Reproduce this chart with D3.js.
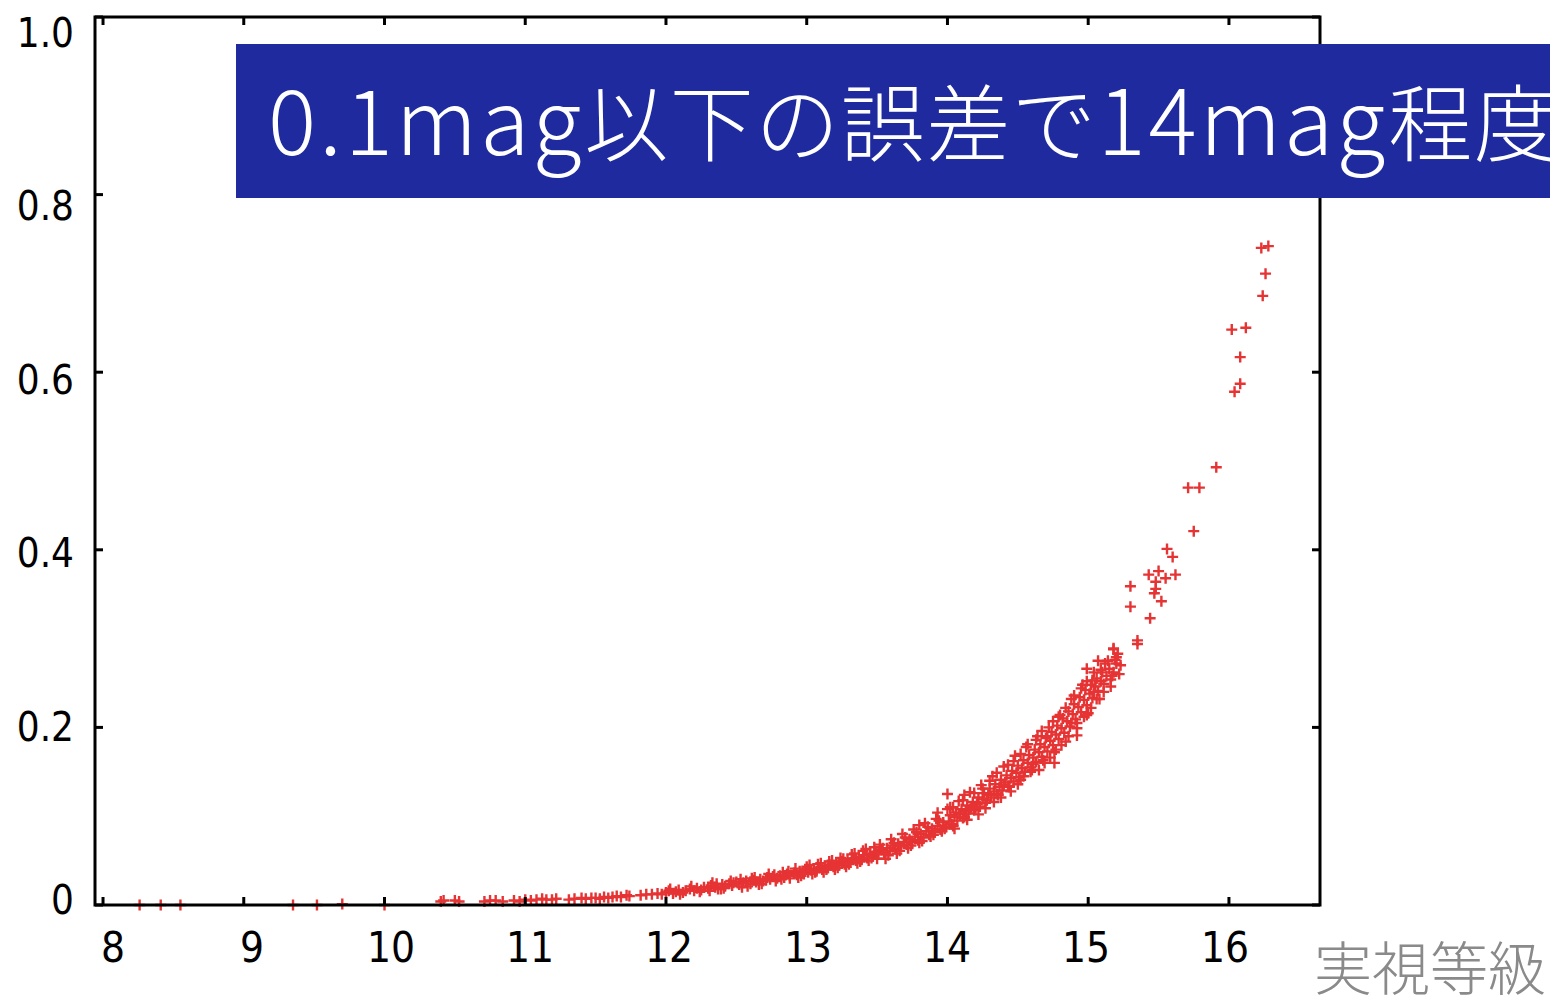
<!DOCTYPE html>
<html>
<head>
<meta charset="utf-8">
<script src="https://cdn.jsdelivr.net/npm/d3@7"></script>
<style>
html,body{margin:0;padding:0;background:#fff;}
svg{display:block;}
</style>
</head>
<body>
<svg id="chart" width="1550" height="1000"></svg>
<script>
// ---- data (magnitude, photometric error) ----
const xTicks = [8, 9, 10, 11, 12, 13, 14, 15, 16];
const yTicks = [0, 0.2, 0.4, 0.6, 0.8, 1.0];
const yTickLabels = ["0", "0.2", "0.4", "0.6", "0.8", "1.0"];
const titleParts = [
  {t: "0.1mag", latin: true},
  {t: "以下の誤差で", latin: false},
  {t: "14mag", latin: true},
  {t: "程度", latin: false}
];
const xAxisTitle = "実視等級";

const brightStars = [
  [8.26,0],[8.41,0],[8.55,0],[9.35,0],[9.52,0],[9.70,0.001],[10.00,0],
  [10.40,0.004],[10.42,0.005],[10.50,0.005],[10.53,0.004],[10.71,0.004],[10.75,0.005],
  [10.79,0.005],[10.84,0.004],[10.92,0.005],[10.96,0.004],
  [11.00,0.006],[11.04,0.005],[11.08,0.006],[11.12,0.007],[11.15,0.006],[11.19,0.006],
  [11.22,0.007],[11.31,0.006],[11.35,0.007],[11.40,0.008],[11.43,0.007],[11.47,0.008],
  [11.50,0.008],[11.53,0.007],[11.56,0.009],[11.59,0.008],[11.62,0.009],[11.65,0.010],
  [11.68,0.009],[11.72,0.011],[11.74,0.010],[11.82,0.011],[11.86,0.012],[11.90,0.012],
  [11.94,0.013],[11.97,0.012]
];

const midStars = [
  [12.00,0.014],[12.02,0.016],[12.05,0.013],[12.07,0.015],[12.09,0.017],[12.12,0.014],
  [12.14,0.016],[12.17,0.018],[12.20,0.016],[12.22,0.019],[12.25,0.017],[12.27,0.020],
  [12.30,0.019],[12.32,0.022],[12.35,0.020],[12.37,0.018],[12.40,0.023],[12.42,0.021],
  [12.45,0.024],[12.47,0.022],[12.50,0.026],[12.52,0.023],[12.55,0.025],[12.57,0.027],
  [12.60,0.024],[12.62,0.028],[12.64,0.026],[12.67,0.029],[12.69,0.027],[12.72,0.031],
  [12.74,0.029],[12.76,0.032],[12.79,0.030],[12.81,0.033],[12.84,0.031],[12.86,0.035],
  [12.88,0.033],[12.91,0.036],[12.93,0.034],[12.95,0.038],[12.97,0.036],[12.99,0.040],
  [13.01,0.037],[13.03,0.039],[13.05,0.041],[13.07,0.038],[13.09,0.042],[13.11,0.040],
  [13.13,0.044],[13.15,0.042],[13.17,0.045],[13.19,0.043],[13.21,0.047],[13.23,0.045],
  [13.25,0.049],[13.27,0.046],[13.29,0.050],[13.31,0.048],[13.33,0.052],[13.35,0.050],
  [13.37,0.054],[13.39,0.051],[13.41,0.056],[13.43,0.053],[13.45,0.058],[13.47,0.055],
  [13.49,0.060],[13.51,0.057],[13.53,0.062],[13.55,0.059],[13.57,0.064],[13.59,0.061],
  [13.61,0.067],[13.63,0.063],[13.65,0.069],[13.67,0.066],[13.69,0.071],[13.71,0.068],
  [13.73,0.074],[13.75,0.071],[13.77,0.077],[13.79,0.073],[13.81,0.080],[13.83,0.076],
  [13.85,0.083],[13.87,0.079],[13.89,0.086],[13.91,0.082],[13.93,0.089],[13.95,0.085],
  [13.97,0.093],[13.99,0.088]
];

const midScatter = [
  [12.03,0.018],[12.10,0.012],[12.18,0.021],[12.24,0.015],[12.33,0.025],[12.39,0.018],
  [12.46,0.027],[12.53,0.029],[12.58,0.021],[12.63,0.031],[12.68,0.024],[12.73,0.035],
  [12.78,0.027],[12.83,0.037],[12.88,0.030],[12.92,0.041],[12.96,0.033],[13.00,0.043],
  [13.04,0.035],[13.08,0.046],[13.12,0.037],[13.16,0.049],[13.20,0.040],[13.24,0.053],
  [13.28,0.043],[13.32,0.057],[13.36,0.047],[13.40,0.061],[13.44,0.050],[13.48,0.065],
  [12.31,0.016],[12.36,0.024],[12.41,0.019],[12.48,0.025],[12.54,0.020],[12.61,0.030],
  [12.66,0.023],[12.71,0.028],[12.77,0.034],[12.82,0.029],[12.87,0.038],[12.94,0.031],
  [12.98,0.035],[13.02,0.045],[13.06,0.037],[13.10,0.047],[13.14,0.040],[13.18,0.050],
  [13.22,0.042],[13.26,0.052],[13.30,0.046],[13.34,0.058],[13.38,0.049],[13.42,0.063],
  [13.46,0.053]
];

const faintStars = [
  [14.01,0.094],[14.02,0.101],[14.03,0.091],[14.05,0.099],[14.06,0.104],[14.07,0.095],
  [14.09,0.102],[14.10,0.108],[14.11,0.098],[14.13,0.106],[14.14,0.112],[14.15,0.103],
  [14.17,0.110],[14.18,0.116],[14.19,0.107],[14.21,0.114],[14.22,0.121],[14.23,0.111],
  [14.25,0.119],[14.26,0.126],[14.27,0.115],[14.29,0.124],[14.30,0.131],[14.31,0.121],
  [14.33,0.128],[14.34,0.136],[14.35,0.125],[14.37,0.133],[14.38,0.141],[14.39,0.129],
  [14.41,0.138],[14.42,0.146],[14.43,0.134],[14.45,0.143],[14.46,0.151],[14.47,0.139],
  [14.49,0.149],[14.50,0.157],[14.51,0.144],[14.53,0.154],[14.54,0.163],[14.55,0.150],
  [14.57,0.160],[14.58,0.169],[14.59,0.155],[14.61,0.166],[14.62,0.175],[14.63,0.161],
  [14.65,0.172],[14.66,0.181],[14.67,0.167],[14.69,0.178],[14.70,0.188],[14.71,0.173],
  [14.73,0.185],[14.74,0.195],[14.75,0.180],[14.77,0.192],[14.78,0.202],[14.79,0.187],
  [14.81,0.199],[14.82,0.210],[14.83,0.194],[14.85,0.207],[14.86,0.218],[14.87,0.201],
  [14.89,0.215],[14.90,0.226],[14.91,0.209],[14.93,0.223],[14.94,0.234],[14.95,0.217],
  [14.97,0.231],[14.98,0.242],[14.99,0.225],[15.01,0.238],[15.02,0.248],[15.03,0.233],
  [15.05,0.246],[15.06,0.255],[15.07,0.241],[15.09,0.252],[15.10,0.262],[15.11,0.249],
  [15.13,0.258],[15.15,0.266],[15.16,0.254],[15.18,0.262],[15.20,0.272],[15.22,0.260]
];

const faintScatter = [
  [13.52,0.068],[13.56,0.052],[13.60,0.074],[13.64,0.058],[13.68,0.080],[13.72,0.064],
  [13.76,0.085],[13.80,0.070],[13.84,0.092],[13.88,0.077],[13.92,0.097],[13.96,0.083],
  [14.00,0.108],[14.04,0.089],[14.08,0.117],[14.12,0.099],[14.16,0.127],[14.20,0.109],
  [14.24,0.135],[14.28,0.118],[14.32,0.145],[14.36,0.124],[14.40,0.156],[14.44,0.133],
  [14.48,0.168],[14.52,0.141],[14.56,0.178],[14.60,0.152],[14.64,0.190],[14.68,0.163],
  [14.72,0.200],[14.76,0.172],[14.80,0.214],[14.84,0.184],[14.88,0.232],[14.92,0.199],
  [14.96,0.248],[15.00,0.216],[15.04,0.262],[15.08,0.232],[15.12,0.272],[15.16,0.246],
  [15.19,0.276],
  [13.50,0.052],[13.54,0.064],[13.58,0.056],[13.62,0.070],[13.66,0.061],[13.70,0.076],
  [13.74,0.067],[13.78,0.082],[13.82,0.072],[13.86,0.088],[13.90,0.079],[13.94,0.095],
  [13.98,0.086],[14.02,0.110],[14.05,0.086],[14.08,0.103],[14.11,0.118],[14.14,0.096],
  [14.16,0.108],[14.19,0.126],[14.22,0.102],[14.25,0.131],[14.27,0.109],[14.30,0.140],
  [14.33,0.116],[14.35,0.149],[14.38,0.121],[14.40,0.135],[14.43,0.158],[14.45,0.128],
  [14.47,0.162],[14.50,0.136],[14.52,0.170],[14.54,0.145],[14.57,0.181],[14.59,0.150],
  [14.61,0.159],[14.63,0.186],[14.65,0.152],[14.67,0.196],[14.69,0.160],[14.71,0.190],
  [14.73,0.166],[14.75,0.207],[14.77,0.175],[14.79,0.212],[14.81,0.180],[14.84,0.222],
  [14.86,0.190],[14.88,0.205],[14.90,0.236],[14.92,0.205],[14.95,0.244],[14.97,0.212],
  [14.99,0.252],[15.02,0.222],[15.04,0.240],[15.06,0.232],[15.09,0.265],[15.11,0.240],
  [15.14,0.275],[15.17,0.258],[15.21,0.283]
];

const sparseStars = [
  [13.80,0.090],[13.93,0.104],[14.00,0.125],[14.04,0.110],[14.12,0.124],[14.76,0.160],
  [14.92,0.191],[14.99,0.214],[14.99,0.266],[15.03,0.253],[15.07,0.275],[15.18,0.288],
  [15.20,0.279],[15.23,0.270],
  [15.18,0.289],[15.30,0.359],[15.30,0.336],[15.35,0.298],[15.35,0.294],[15.43,0.372],
  [15.44,0.323],[15.47,0.351],[15.48,0.364],[15.48,0.356],[15.50,0.376],[15.52,0.342],
  [15.55,0.368],[15.56,0.401],[15.60,0.392],[15.62,0.372],[15.71,0.470],[15.75,0.421],
  [15.79,0.470],[15.91,0.493],[16.02,0.648],[16.04,0.578],[16.08,0.587],[16.08,0.617],
  [16.12,0.650],[16.23,0.740],[16.24,0.686],[16.26,0.711],[16.28,0.742]
];

// ---- layout ----
const W = 1550, H = 1000;
const frame = {left: 95, right: 1320, top: 17, bottom: 905};
const svg = d3.select("#chart");

const x = d3.scaleLinear().domain([7.943, 16.647]).range([frame.left, frame.right]);
const y = d3.scaleLinear().domain([0, 1]).range([frame.bottom, frame.top]);
// tick-label placement (labels in the original sit slightly off their ticks)
const xLabelPos = d3.scaleLinear().domain([8, 16]).range([113, 1225]);
const yLabelPos = d3.scaleLinear().domain([0, 1]).range([900, 33]);

const allStars = brightStars.concat(midStars, midScatter, faintStars, faintScatter, sparseStars);

// points
const red = "#e63333";
const arm = 5.5;
svg.append("g").selectAll("path").data(allStars).join("path")
  .attr("d", d => {
    const cx = x(d[0]), cy = y(d[1]);
    return `M${cx - arm},${cy}H${cx + arm}M${cx},${cy - arm}V${cy + arm}`;
  })
  .attr("stroke", red).attr("stroke-width", 2.4).attr("fill", "none");

// frame and inward ticks (all four sides)
const g = svg.append("g").attr("stroke", "#000").attr("stroke-width", 3).attr("fill", "none");
g.append("rect")
  .attr("x", frame.left).attr("y", frame.top)
  .attr("width", frame.right - frame.left).attr("height", frame.bottom - frame.top);
const tl = 8;
xTicks.forEach(v => {
  g.append("line").attr("x1", x(v)).attr("x2", x(v)).attr("y1", frame.bottom).attr("y2", frame.bottom - tl);
  g.append("line").attr("x1", x(v)).attr("x2", x(v)).attr("y1", frame.top).attr("y2", frame.top + tl);
});
yTicks.forEach(v => {
  g.append("line").attr("x1", frame.left).attr("x2", frame.left + tl).attr("y1", y(v)).attr("y2", y(v));
  g.append("line").attr("x1", frame.right).attr("x2", frame.right - tl).attr("y1", y(v)).attr("y2", y(v));
});

// tick labels
const labelFont = "'Liberation Sans Narrow', 'DejaVu Sans Condensed', sans-serif";
svg.append("g").selectAll("text").data(xTicks).join("text")
  .attr("x", d => xLabelPos(d)).attr("y", 962)
  .attr("text-anchor", "middle")
  .attr("font-family", labelFont).attr("font-size", 42).attr("fill", "#000")
  .text(d => d);
svg.append("g").selectAll("text").data(yTicks).join("text")
  .attr("x", 74).attr("y", d => yLabelPos(d) + 14)
  .attr("text-anchor", "end")
  .attr("font-family", labelFont).attr("font-size", 40).attr("fill", "#000")
  .text((d, i) => yTickLabels[i]);

// axis title (bottom right)
svg.append("text")
  .attr("x", 1314).attr("y", 990)
  .attr("font-family", "'Noto Sans CJK JP', sans-serif").attr("font-weight", 300)
  .attr("font-size", 58).attr("fill", "#8a8a8a")
  .text(xAxisTitle);

// banner
svg.append("rect").attr("x", 236).attr("y", 44).attr("width", W - 236).attr("height", 154)
  .attr("fill", "#1e2a9e");
const title = svg.append("text")
  .attr("x", 268).attr("y", 155)
  .attr("font-family", "'Noto Sans CJK JP', sans-serif").attr("font-weight", 300)
  .attr("fill", "#fff");
title.selectAll("tspan").data(titleParts).join("tspan")
  .attr("font-size", d => d.latin ? 90 : 84)
  .attr("letter-spacing", d => d.latin ? 3 : 1.5)
  .text(d => d.t);
</script>
</body>
</html>
